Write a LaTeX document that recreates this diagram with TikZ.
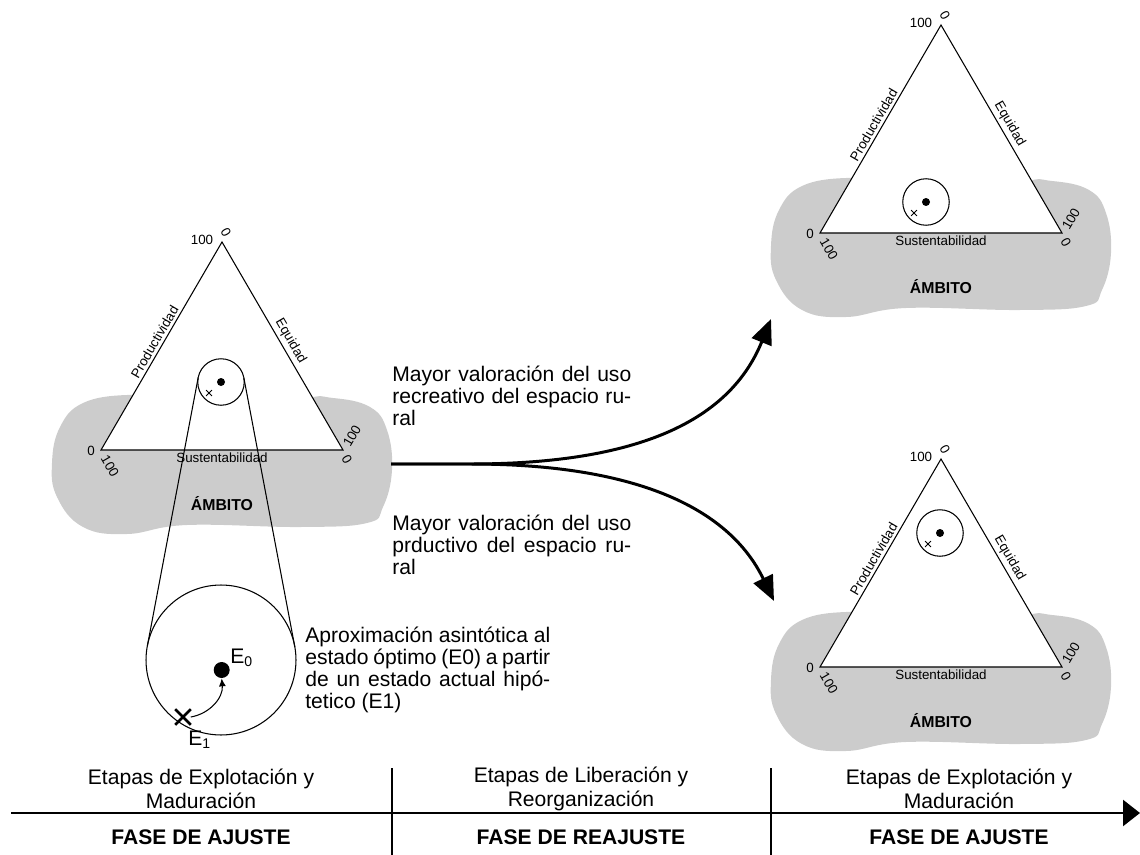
\documentclass[tikz,border=0pt]{standalone}
\usepackage{fontspec}
\setmainfont{Liberation Sans}
\usetikzlibrary{arrows.meta, shapes.misc, calc}
\tikzset{%
  ambito/.style={fill=black!20, draw=none},
  triangle/.style={draw, fill=white, line width=0.6pt},
  tick/.style={font=\fontsize{7.6}{8}\selectfont, inner sep=0pt},
  sidelabel/.style={font=\fontsize{7.6}{9}\selectfont, inner sep=1.5pt},
  ambitolabel/.style={font=\fontsize{9}{10}\selectfont\bfseries, inner sep=0pt},
  statecircle/.style={draw, circle, line width=0.6pt, minimum size=0.93cm, inner sep=0pt, outer sep=0pt},
  zoomcircle/.style={draw, circle, line width=0.6pt, minimum size=3cm, inner sep=0pt, outer sep=0pt},
  smalldot/.style={circle, fill, inner sep=0pt, minimum size=0.16cm},
  bigdot/.style={circle, fill, inner sep=0pt, minimum size=0.32cm},
  smallcross/.style={cross out, draw, line width=0.5pt, inner sep=0pt, minimum size=0.1cm},
  bigcross/.style={cross out, draw, line width=1.5pt, inner sep=0pt, minimum size=0.26cm},
  statelabel/.style={font=\fontsize{12}{12}\selectfont, inner sep=0pt, anchor=base west},
  textblock/.style={font=\fontsize{12}{12.5}\selectfont, align=justify, inner sep=0pt, anchor=north west},
  line/.style={draw, line width=0.6pt},
  thinarrow/.style={draw, line width=0.6pt, -{Latex[length=1.6mm, width=1.4mm]}},
  bigarrow/.style={draw, line width=1.7pt, -{Triangle[length=0.5cm, width=0.42cm]}},
  timeline/.style={draw, line width=1.4pt, -{Triangle[length=0.34cm, width=0.52cm]}},
  stage/.style={font=\fontsize{12}{13.6}\selectfont, align=center},
  phase/.style={font=\fontsize{12}{13.6}\selectfont\bfseries}}

\begin{document}
\begin{tikzpicture}[x=0.02cm, y=0.02cm]
  \useasboundingbox (0,0) rectangle (1140,-855);

  % ternary diagrams: name / lower left corner / state circle
  \foreach \tri/\x/\y/\cx/\cy in {a/101/-450/120/68, b/820/-233/106/31, c/820/-667/120/134} {
    \begin{scope}[shift={(\x,\y)}]
      \fill [ambito] plot [smooth cycle, tension=0.7] coordinates {(26,55) (-18,47) (-41,23) (-49,-13) (-44,-47) (-18,-77) (26,-84) (86,-75) (200,-77) (266,-73) (282,-57) (291,-20) (286,20) (269,43) (232,52) (201,50) (120,20) (60,50)};
      \coordinate (\tri-l) at (0,0);
      \coordinate (\tri-t) at (121,208);
      \coordinate (\tri-r) at (242,0);
      \path [triangle] (\tri-l) -- node [sidelabel, sloped, above] (\tri-prod) {Productividad}
        (\tri-t) -- node [sidelabel, sloped, above] (\tri-eq) {Equidad}
        (\tri-r) -- node [sidelabel, below] (\tri-sus) {Sustentabilidad} cycle;

      \node [tick] (\tri-t100) at (101,210) {100};
      \node [tick, rotate=-60] (\tri-t0) at (125,218) {0};
      \node [tick] (\tri-l0) at (-10,-1) {0};
      \node [tick, rotate=-60] (\tri-l100) at (9,-16) {100};
      \node [tick, rotate=60] (\tri-r100) at (251,14) {100};
      \node [tick, rotate=-60] (\tri-r0) at (246,-9) {0};
      \node [ambitolabel] (\tri-amb) at (121,-54) {ÁMBITO};

      \node [statecircle] (\tri-z) at (\cx,\cy) {};
      \node [smalldot] (\tri-e0) at (\cx,\cy) {};
      \node [smallcross] (\tri-e1) at (\cx-12,\cy-11) {};
    \end{scope}
  }

  % enlarged state circle
  \node [zoomcircle] (zoom) at (221,-660) {};
  \path [line] (a-z.169.2) -- (zoom.169.2);
  \path [line] (a-z.10.8) -- (zoom.10.8);
  \node [bigdot] (e0) at (221.7,-670) {};
  \node [bigcross] (e1) at (183,-717) {};
  \node [statelabel] (e0label) at (230,-663) {E\textsubscript{0}};
  \node [statelabel] (e1label) at (188,-745) {E\textsubscript{1}};
  \path [thinarrow] (e1.east) to [out=10, in=-85] (e0.south);

  \node [textblock, text width=4.9cm] (aprox) at (305,-627) {Aproximación asintótica al\linebreak estado óptimo (E0) a partir\linebreak de un estado actual hipó-\linebreak tetico (E1)};

  % branching arrows
  \coordinate (fork) at (391,-464);
  \coordinate (split) at (470,-464);
  \coordinate (uptip) at (771,-319);
  \coordinate (downtip) at (774,-601);
  \path [bigarrow] (fork) -- (split) .. controls +(170,0) and +(-41,-101) .. (uptip);
  \path [bigarrow] (fork) -- (split) .. controls +(170,0) and +(-44,91) .. (downtip);

  \node [textblock, text width=4.78cm] (recreativo) at (392,-366) {Mayor valoración del uso\linebreak recreativo del espacio ru-\linebreak ral};
  \node [textblock, text width=4.78cm] (productivo) at (392,-515) {Mayor valoración del uso\linebreak prductivo del espacio ru-\linebreak ral};

  % time line
  \coordinate (tstart) at (11,-813);
  \coordinate (tend) at (1140,-813);
  \path [timeline] (tstart) -- (tend);
  \foreach \s in {392, 771}
    \path [line] (\s,-768) -- (\s,-855);

  \foreach \col/\x/\stagetext/\phasetext in {one/201/{Etapas de Explotación y\\Maduración}/{FASE DE AJUSTE},
      two/581/{Etapas de Liberación y\\Reorganización}/{FASE DE REAJUSTE},
      three/959/{Etapas de Explotación y\\Maduración}/{FASE DE AJUSTE}} {
    \node [stage] (stage-\col) at (\x,-789) {\stagetext};
    \node [phase] (phase-\col) at (\x,-837) {\phasetext};
  }
\end{tikzpicture}
\end{document}
